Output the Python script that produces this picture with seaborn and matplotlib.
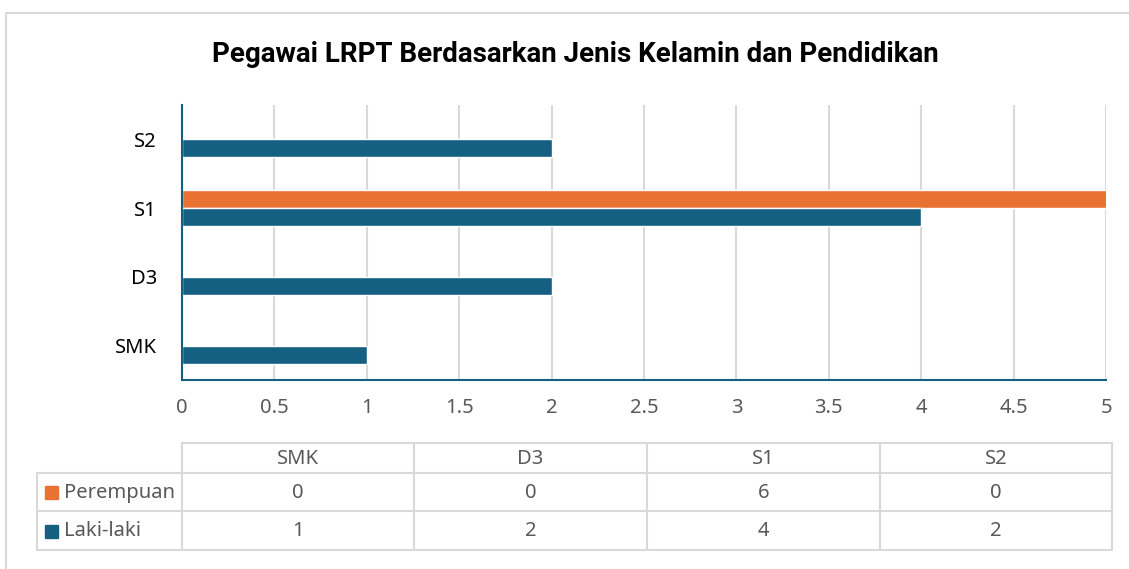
import matplotlib
matplotlib.use("Agg")
import matplotlib.pyplot as plt
from matplotlib.patches import Rectangle
import seaborn as sns
import pandas as pd

# data
categories = ["SMK", "D3", "S1", "S2"]
perempuan = [0, 0, 6, 0]
laki_laki = [1, 2, 4, 2]
series_names = ["Perempuan", "Laki-laki"]
x_ticks = [0, 0.5, 1, 1.5, 2, 2.5, 3, 3.5, 4, 4.5, 5]

W, H = 1129, 569
ORANGE = "#e97132"
BLUE = "#156082"
GRID = "#d9d9d9"
TXT = "#595959"
FS = 14.5

sns.set_theme(style="white")
plt.rcParams["font.family"] = ["Noto Sans", "DejaVu Sans"]

df = pd.DataFrame({
    "Pendidikan": categories * 2,
    "Jumlah": perempuan + laki_laki,
    "Jenis": [series_names[0]] * 4 + [series_names[1]] * 4,
})

fig = plt.figure(figsize=(W / 100, H / 100), dpi=100)

# outer chart frame (pixel coords)
frame = fig.add_axes([0, 0, 1, 1])
frame.set_xlim(0, W)
frame.set_ylim(H, 0)
frame.axis("off")
frame.plot([6, 6, W], [H, 13, 13], color=GRID, lw=1.5)

ax = fig.add_axes([182 / W, 1 - 380 / H, (1106 - 182) / W, (380 - 105) / H])
sns.barplot(data=df, x="Jumlah", y="Pendidikan", hue="Jenis",
            order=categories[::-1], hue_order=series_names,
            palette=[ORANGE, BLUE], width=0.52, saturation=1,
            orient="h", ax=ax, legend=False)
ax.set_xlim(0, 5)
ax.set_xticks(x_ticks)
ax.set_xticklabels([f"{t:g}" for t in x_ticks])
ax.xaxis.grid(True, color=GRID, lw=1.5)
ax.set_axisbelow(True)
for s in ["top", "right"]:
    ax.spines[s].set_visible(False)
for s in ["left", "bottom"]:
    ax.spines[s].set_color(BLUE)
    ax.spines[s].set_linewidth(1.5)
ax.tick_params(axis="x", colors=TXT, labelsize=FS, length=0, pad=13)
ax.tick_params(axis="y", labelsize=FS, length=0, pad=18, labelcolor="black")
ax.set_xlabel("")
ax.set_ylabel("")

fig.text(575 / W, 1 - 55 / H, "Pegawai LRPT Berdasarkan Jenis Kelamin dan Pendidikan",
         ha="center", va="center", fontsize=20, fontweight="bold", color="black",
         family=["Roboto", "DejaVu Sans"])

# data table under the chart
col_x = [182, 414, 647, 880, 1112]
row_y = [443, 473, 511, 550]
lx = 37
for y in row_y:
    frame.plot([lx if y > row_y[0] else col_x[0], col_x[-1]], [y, y], color=GRID, lw=1.5)
frame.plot([lx, lx], [row_y[1], row_y[-1]], color=GRID, lw=1.5)
for x in col_x:
    frame.plot([x, x], [row_y[0], row_y[-1]], color=GRID, lw=1.5)

for i, cat in enumerate(categories):
    cx = (col_x[i] + col_x[i + 1]) / 2
    frame.text(cx, (row_y[0] + row_y[1]) / 2 + 1, cat, ha="center", va="center",
               fontsize=FS, color=TXT)
    for r, vals in enumerate([perempuan, laki_laki]):
        frame.text(cx, (row_y[r + 1] + row_y[r + 2]) / 2 + 1, str(vals[i]),
                   ha="center", va="center", fontsize=FS, color=TXT)

for r, (name, col) in enumerate(zip(series_names, [ORANGE, BLUE])):
    cy = (row_y[r + 1] + row_y[r + 2]) / 2
    frame.add_patch(Rectangle((45, cy - 6), 13, 13, color=col))
    frame.text(64, cy + 1, name, ha="left", va="center", fontsize=FS, color=TXT)

fig.savefig("out.png", dpi=100)
